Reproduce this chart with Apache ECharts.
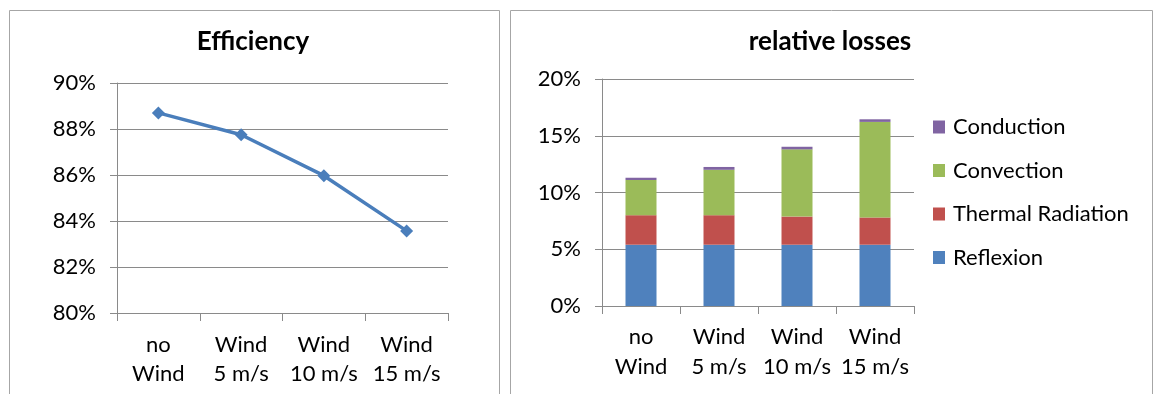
<!DOCTYPE html>
<html>
<head>
<meta charset="utf-8">
<script src="https://cdn.jsdelivr.net/npm/echarts@6/dist/echarts.min.js"></script>
<style>
  html, body { margin: 0; padding: 0; background: #fff; }
  #chart { width: 1153px; height: 394px; }
</style>
</head>
<body>
<div id="chart"></div>
<script>
// Wind cases shared by both panels
const categories = ['no\nWind', 'Wind\n5 m/s', 'Wind\n10 m/s', 'Wind\n15 m/s'];

// Left panel: overall efficiency (%)
const efficiency = [88.7, 87.75, 85.97, 83.57];

// Right panel: stacked loss shares (%)
const reflexion = [5.4, 5.4, 5.4, 5.4];
const thermalRadiation = [2.6, 2.6, 2.48, 2.4];
const convection = [3.1, 4.0, 5.92, 8.42];
const conduction = [0.2, 0.25, 0.23, 0.23];

const effTicks = { min: 80, max: 90, step: 2 };
const lossTicks = { min: 0, max: 20, step: 5 };

const FONT = 'Lato, "Noto Sans", sans-serif';
const GRID_COLOR = '#8a8a8a';
const BORDER_COLOR = '#a6a6a6';
const TEXT = '#000';

const chart = echarts.init(document.getElementById('chart'), null, { renderer: 'canvas' });

function catAxis(gridIndex, margin, lineHeight) {
  return {
    type: 'category',
    gridIndex: gridIndex,
    data: categories,
    boundaryGap: true,
    axisLine: { show: true, lineStyle: { color: GRID_COLOR, width: 1 } },
    axisTick: { show: true, length: 8, lineStyle: { color: GRID_COLOR } },
    axisLabel: { color: TEXT, fontFamily: FONT, fontSize: 22, lineHeight: lineHeight, margin: margin, interval: 0 }
  };
}

function valAxis(gridIndex, ticks) {
  return {
    type: 'value',
    gridIndex: gridIndex,
    min: ticks.min,
    max: ticks.max,
    interval: ticks.step,
    axisLine: { show: true, lineStyle: { color: GRID_COLOR, width: 1 } },
    axisTick: { show: true, length: 7, lineStyle: { color: GRID_COLOR } },
    splitLine: { show: true, lineStyle: { color: GRID_COLOR, width: 1 } },
    axisLabel: { color: TEXT, fontFamily: FONT, fontSize: 22, margin: 21, formatter: '{value}%' }
  };
}

const barColors = {
  Reflexion: '#4F81BD',
  'Thermal Radiation': '#C0504D',
  Convection: '#9BBB59',
  Conduction: '#8064A2'
};

function barSeries(name, data) {
  return {
    name: name,
    type: 'bar',
    stack: 'losses',
    xAxisIndex: 1,
    yAxisIndex: 1,
    barWidth: 31,
    data: data,
    itemStyle: { color: barColors[name] }
  };
}

chart.setOption({
  animation: false,
  backgroundColor: '#fff',
  graphic: [
    { type: 'rect', shape: { x: 9.5, y: 10.5, width: 490, height: 400 },
      style: { fill: 'none', stroke: BORDER_COLOR, lineWidth: 1 }, silent: true },
    { type: 'rect', shape: { x: 510.5, y: 10.5, width: 642, height: 400 },
      style: { fill: 'none', stroke: BORDER_COLOR, lineWidth: 1 }, silent: true },
    { type: 'text', x: 253, y: 42,
      style: { text: 'Efficiency', font: 'bold 26px ' + FONT, fill: TEXT, textAlign: 'center', textVerticalAlign: 'middle' } },
    { type: 'text', x: 830, y: 42,
      style: { text: 'relative losses', font: 'bold 26px ' + FONT, fill: TEXT, textAlign: 'center', textVerticalAlign: 'middle' } }
  ],
  grid: [
    { left: 117, top: 83, width: 331, height: 230 },
    { left: 602, top: 79, width: 312, height: 227 }
  ],
  xAxis: [catAxis(0, 17, 29), catAxis(1, 16, 30)],
  yAxis: [valAxis(0, effTicks), valAxis(1, lossTicks)],
  legend: {
    orient: 'vertical',
    left: 933,
    top: 116,
    padding: 0,
    itemWidth: 12,
    itemHeight: 13,
    itemGap: 21.5,
    icon: 'rect',
    data: ['Conduction', 'Convection', 'Thermal Radiation', 'Reflexion'],
    textStyle: { color: TEXT, fontFamily: FONT, fontSize: 22, lineHeight: 22, padding: [0, 0, 0, 3] }
  },
  series: [
    {
      name: 'Efficiency',
      type: 'line',
      xAxisIndex: 0,
      yAxisIndex: 0,
      data: efficiency,
      symbol: 'diamond',
      symbolSize: 13,
      lineStyle: { color: '#4A7EBB', width: 3.5 },
      itemStyle: { color: '#4A7EBB' }
    },
    barSeries('Reflexion', reflexion),
    barSeries('Thermal Radiation', thermalRadiation),
    barSeries('Convection', convection),
    barSeries('Conduction', conduction)
  ]
});
</script>
</body>
</html>
